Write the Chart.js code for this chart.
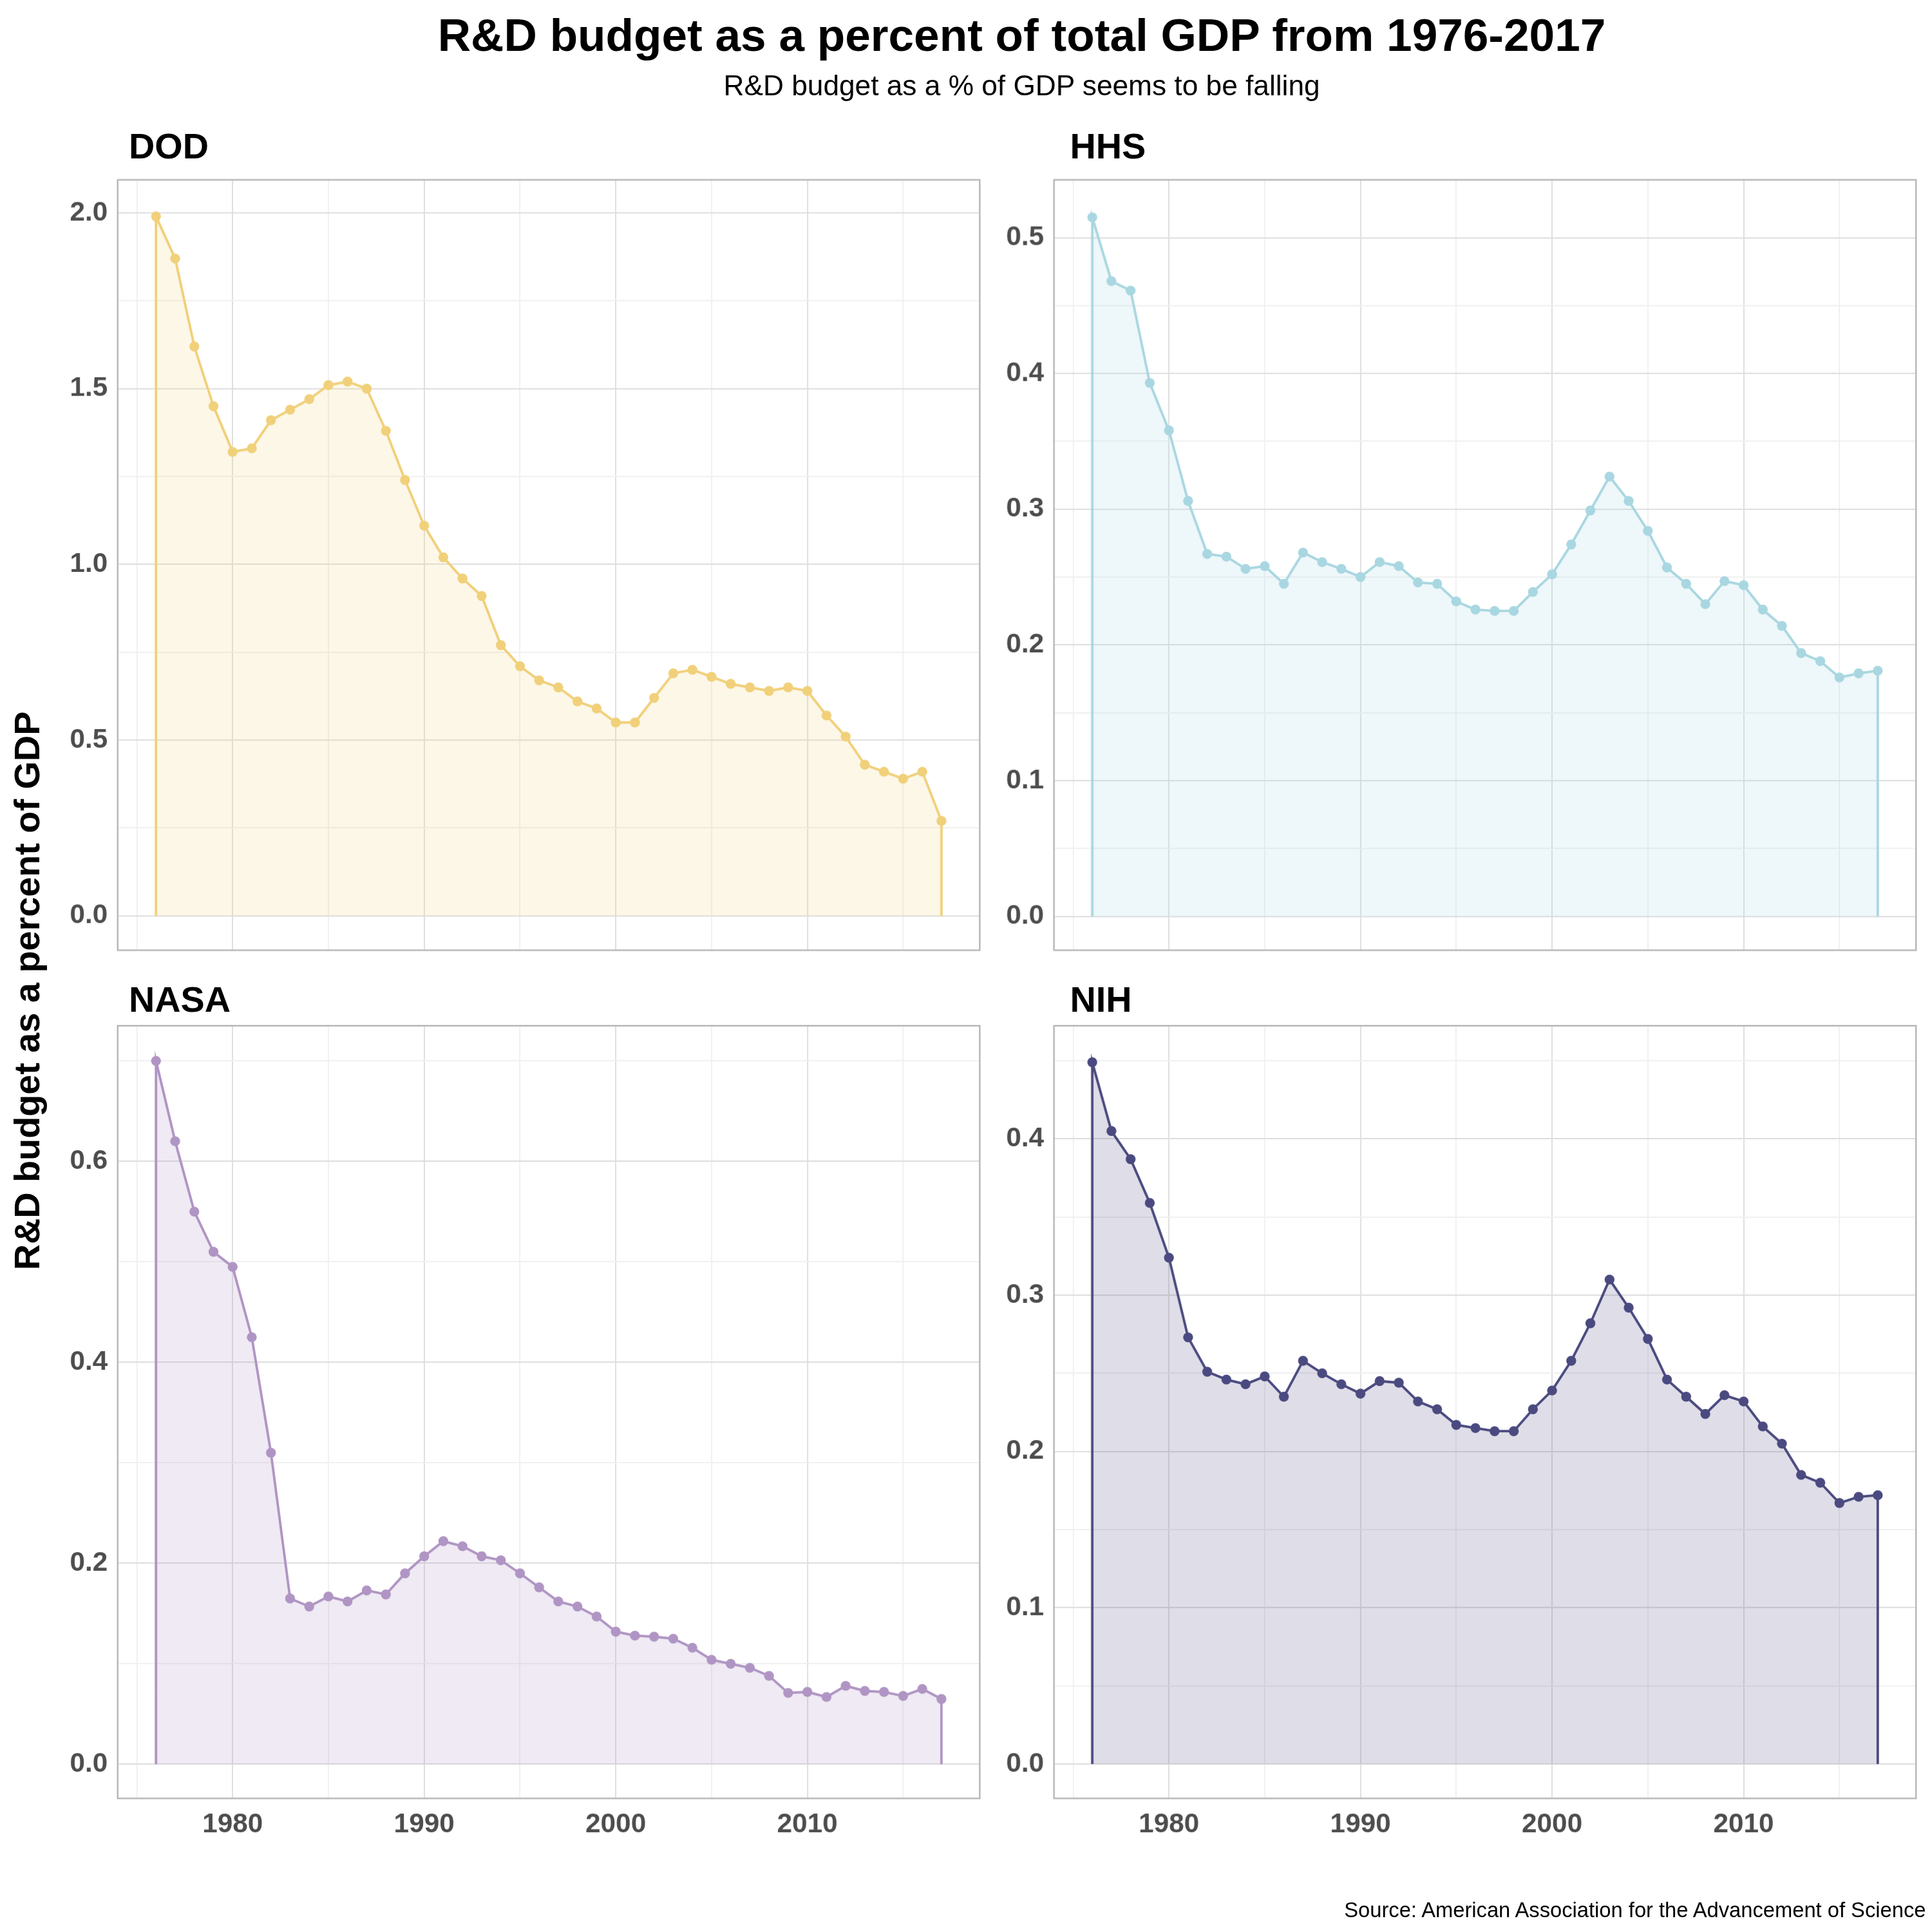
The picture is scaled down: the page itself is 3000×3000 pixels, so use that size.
<!DOCTYPE html>
<html><head><meta charset="utf-8">
<script src="https://cdn.jsdelivr.net/npm/chart.js@4/dist/chart.umd.min.js"></script>
<style>
  html, body { margin: 0; background: #fff; }
  #page { position: absolute; left: 0; top: 0; width: 1560px; height: 1560px;
          transform: scale(1.9231); transform-origin: 0 0; font-family: Arial, "Liberation Sans", sans-serif; }
  .t { position: absolute; white-space: nowrap; color: #000; }
  .box { position: absolute; }
</style></head>
<body>
<div id="page">
  <div class="t" style="left:0;width:1650px;top:8px;text-align:center;font-size:37px;font-weight:bold;">R&amp;D budget as a percent of total GDP from 1976-2017</div>
  <div class="t" style="left:0;width:1650px;top:56px;text-align:center;font-size:23px;">R&amp;D budget as a % of GDP seems to be falling</div>
  <div class="t" style="left:104px;top:102px;font-size:29px;font-weight:bold;">DOD</div>
  <div class="t" style="left:864px;top:102px;font-size:29px;font-weight:bold;">HHS</div>
  <div class="t" style="left:104px;top:791px;font-size:29px;font-weight:bold;">NASA</div>
  <div class="t" style="left:864px;top:791px;font-size:29px;font-weight:bold;">NIH</div>
  <div class="t" style="left:22px;top:800px;font-size:29px;font-weight:bold;transform:translate(-50%,-50%) rotate(-90deg);transform-origin:center;position:absolute;">R&amp;D budget as a percent of GDP</div>
  <div class="t" style="right:5px;top:1533px;font-size:17px;">Source: American Association for the Advancement of Science</div>
  <div class="box" style="left:40px;top:124px;width:752px;height:664px;"><canvas id="dod"></canvas></div>
  <div class="box" style="left:796px;top:124px;width:752px;height:664px;"><canvas id="hhs"></canvas></div>
  <div class="box" style="left:40px;top:807px;width:752px;height:686px;"><canvas id="nasa"></canvas></div>
  <div class="box" style="left:796px;top:807px;width:752px;height:686px;"><canvas id="nih"></canvas></div>
</div>
<script>
// ── Data ───────────────────────────────────────────────────────
const YEARS = Array.from({ length: 42 }, (_, i) => 1976 + i);
const DOD = [1.99,1.87,1.62,1.45,1.32,1.33,1.41,1.44,1.47,1.51,1.52,1.50,1.38,1.24,1.11,1.02,0.96,0.91,0.77,0.71,0.67,0.65,0.61,0.59,0.55,0.55,0.62,0.69,0.70,0.68,0.66,0.65,0.64,0.65,0.64,0.57,0.51,0.43,0.41,0.39,0.41,0.27];
const HHS = [0.515,0.468,0.461,0.393,0.358,0.306,0.267,0.265,0.256,0.258,0.245,0.268,0.261,0.256,0.250,0.261,0.258,0.246,0.245,0.232,0.226,0.225,0.225,0.239,0.252,0.274,0.299,0.324,0.306,0.284,0.257,0.245,0.230,0.247,0.244,0.226,0.214,0.194,0.188,0.176,0.179,0.181];
const NASA = [0.70,0.62,0.55,0.51,0.495,0.425,0.31,0.165,0.157,0.167,0.162,0.173,0.169,0.19,0.207,0.222,0.217,0.207,0.203,0.19,0.176,0.162,0.157,0.147,0.132,0.128,0.127,0.125,0.116,0.104,0.100,0.096,0.088,0.071,0.072,0.067,0.078,0.073,0.072,0.068,0.075,0.065];
const NIH = [0.449,0.405,0.387,0.359,0.324,0.273,0.251,0.246,0.243,0.248,0.235,0.258,0.250,0.243,0.237,0.245,0.244,0.232,0.227,0.217,0.215,0.213,0.213,0.227,0.239,0.258,0.282,0.310,0.292,0.272,0.246,0.235,0.224,0.236,0.232,0.216,0.205,0.185,0.180,0.167,0.171,0.172];
const X_TICKS = [1980, 1990, 2000, 2010];

const DPR = 1.9231;
const GRID_MAJOR = "#dedede", GRID_MINOR = "#f0f0f0";

// panel border
const boxPlugin = {
  id: "box",
  afterDraw(chart) {
    const { ctx, chartArea: a } = chart;
    ctx.save();
    ctx.strokeStyle = "#b3b3b3";
    ctx.lineWidth = 1.2;
    ctx.strokeRect(a.left, a.top, a.right - a.left, a.bottom - a.top);
    ctx.restore();
  }
};

function makePanel(id, values, color, fill, yMin, yMax, step, digits, showX) {
  const pts = [{ x: 1976, y: 0 }, ...YEARS.map((y, i) => ({ x: y, y: values[i] })), { x: 2017, y: 0 }];
  const radius = pts.map((_, i) => (i === 0 || i === pts.length - 1) ? 0 : 4);
  return new Chart(document.getElementById(id), {
    type: "line",
    data: { datasets: [{
      data: pts, borderColor: color, backgroundColor: fill, fill: "origin",
      borderWidth: 2, tension: 0, pointRadius: radius, pointBackgroundColor: color,
      pointBorderWidth: 0
    }] },
    options: {
      responsive: true, maintainAspectRatio: false, animation: false, devicePixelRatio: DPR,
      layout: { padding: 0 },
      plugins: { legend: { display: false }, tooltip: { enabled: false } },
      scales: {
        x: {
          type: "linear", min: 1974, max: 2019,
          afterBuildTicks: s => { s.ticks = [1975,1980,1985,1990,1995,2000,2005,2010,2015].map(v => ({ value: v })); },
          afterFit: s => { s.height = showX ? 41 : 0; },
          grid: { color: c => X_TICKS.includes(c.tick && c.tick.value) ? GRID_MAJOR : GRID_MINOR, drawTicks: false },
          border: { display: false },
          ticks: { display: showX, padding: 8, color: "#4d4d4d", font: { size: 22, weight: "bold", family: "Arial" },
                   callback: v => X_TICKS.includes(v) ? String(v) : "" }
        },
        y: {
          min: yMin, max: yMax,
          afterBuildTicks: s => {
            const t = [];
            for (let v = 0; v <= yMax + 1e-9; v += step / 2) t.push({ value: +v.toFixed(4) });
            s.ticks = t;
          },
          afterFit: s => { s.width = 55; },
          grid: { color: c => { const v = c.tick ? c.tick.value : 0; return Math.abs(Math.round(v / step) * step - v) < 1e-6 ? GRID_MAJOR : GRID_MINOR; }, drawTicks: false },
          border: { display: false },
          ticks: { padding: 8, color: "#4d4d4d", font: { size: 22, weight: "bold", family: "Arial" },
                   callback: v => Math.abs(Math.round(v / step) * step - v) < 1e-6 ? v.toFixed(digits) : "" }
        }
      }
    },
    plugins: [boxPlugin]
  });
}

makePanel("dod", DOD, "#f1d07a", "rgba(241,208,122,0.18)", -0.098, 2.094, 0.5, 1, false);
makePanel("hhs", HHS, "#a9d7e1", "rgba(169,215,225,0.2)", -0.025, 0.5426, 0.1, 1, false);
makePanel("nasa", NASA, "#b095c4", "rgba(176,149,196,0.2)", -0.034, 0.735, 0.2, 1, true);
makePanel("nih", NIH, "#4b4a80", "rgba(75,74,128,0.18)", -0.022, 0.4724, 0.1, 1, true);
</script>
</body></html>
